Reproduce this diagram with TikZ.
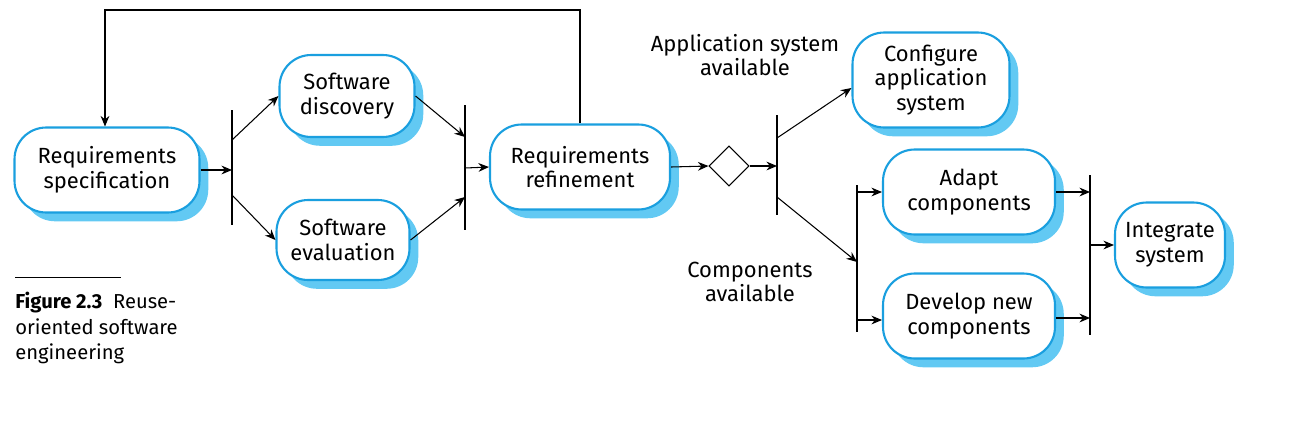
\documentclass[tikz,border=0pt]{standalone}
\usepackage{fontspec}
\setmainfont{Fira Sans}
\usetikzlibrary{shapes.geometric,shadows,arrows.meta}
\definecolor{actblue}{HTML}{1A9FDF}
\definecolor{shadeblue}{HTML}{62C9F3}
\begin{document}
\begin{tikzpicture}[x=0.02cm, y=-0.02cm, >={Stealth[length=6pt,width=5pt]}, font=\fontsize{12.5}{14}\selectfont]
    \tikzstyle{act_style} = [rectangle, rounded corners=18pt, draw=actblue, line width=1.2pt, fill=white, align=center, inner sep=2pt,
        drop shadow={shadow xshift=5pt, shadow yshift=-5pt, fill=shadeblue, opacity=1}]
    \tikzstyle{bar_style} = [draw=black, line width=0.6pt]
    \tikzstyle{edge_style} = [draw=black, line width=0.6pt, ->]
    \useasboundingbox (0,0) rectangle (1301,427);
    \node[act_style, minimum width=3.7cm, minimum height=1.7cm] (spec) at (107,170) {Requirements\\specification};
    \node[act_style, minimum width=2.7cm, minimum height=1.64cm] (disc) at (347,96) {Software\\discovery};
    \node[act_style, minimum width=2.66cm, minimum height=1.6cm] (eval) at (343,240) {Software\\evaluation};
    \node[act_style, minimum width=3.6cm, minimum height=1.7cm] (refine) at (580,167) {Requirements\\refinement};
    \node[diamond, draw, line width=0.6pt, minimum size=0.8cm, inner sep=0pt] (choice) at (729,166) {};
    \node[act_style, minimum width=3.14cm, minimum height=1.9cm] (config) at (931,80) {Configure\\application\\system};
    \node[act_style, minimum width=3.44cm, minimum height=1.7cm] (adapt) at (969,192) {Adapt\\components};
    \node[act_style, minimum width=3.44cm, minimum height=1.7cm] (develop) at (969,316) {Develop new\\components};
    \node[act_style, minimum width=2.2cm, minimum height=1.7cm] (integ) at (1170,245) {Integrate\\system};

    \node[align=center] (lapp) at (745,55) {Application system\\available};
    \node[align=center] (lcomp) at (750,282) {Components\\available};

    % bars
    \coordinate (b1t) at (232,110); \coordinate (b1b) at (232,225);
    \coordinate (b2t) at (465,105); \coordinate (b2b) at (465,230);
    \coordinate (b3t) at (777,115); \coordinate (b3b) at (777,215);
    \coordinate (b4t) at (857,185); \coordinate (b4b) at (857,332);
    \coordinate (b5t) at (1090,175); \coordinate (b5b) at (1090,335);
    \foreach \b in {b1,b2,b3,b4,b5} \draw[bar_style] (\b t) -- (\b b);

    \draw[edge_style] (spec.east) -- (232,170);
    \draw[edge_style] (232,140) -- (disc.west);
    \draw[edge_style] (232,195) -- (eval.west);
    \draw[edge_style] (disc.east) -- (465,137);
    \draw[edge_style] (eval.east) -- (465,197);
    \draw[edge_style] (465,168) -- (refine.west);
    \draw[edge_style] (refine.north) -- (580,10) -- (105,10) -- (spec.north -| 105,0);
    \draw[edge_style] (refine.east) -- (choice.west);
    \draw[edge_style] (choice.east) -- (777,166);
    \draw[edge_style] (777,138) -- (config.west |- 0,88);
    \draw[edge_style] (777,197) -- (857,262);
    \draw[edge_style] (857,192) -- (adapt.west);
    \draw[edge_style] (857,320) -- (develop.west |- 0,320);
    \draw[edge_style] (adapt.east) -- (1090,192);
    \draw[edge_style] (develop.east |- 0,318) -- (1090,318);
    \draw[edge_style] (1090,245) -- (integ.west);

    % caption
    \draw[line width=0.5pt] (15,277) -- (121,277);
    \node[anchor=north west, align=left, inner sep=0pt, font=\fontsize{11.5}{14.5}\selectfont] (cap) at (15,292) {\textbf{Figure 2.3}\ \ Reuse-\\oriented software\\engineering};
\end{tikzpicture}
\end{document}
